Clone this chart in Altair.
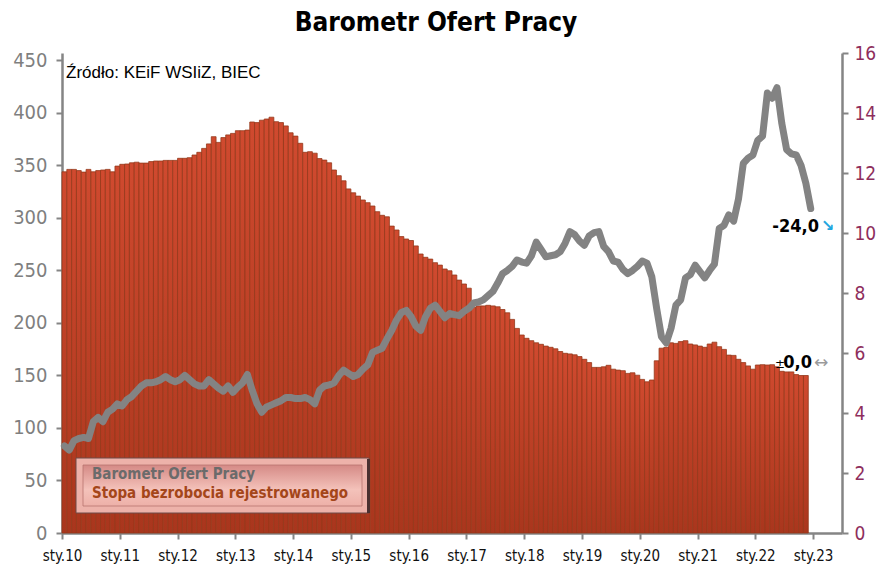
import altair as alt
import pandas as pd

# ---------------- data ----------------
year_labels = ["sty.10", "sty.11", "sty.12", "sty.13", "sty.14", "sty.15", "sty.16",
               "sty.17", "sty.18", "sty.19", "sty.20", "sty.21", "sty.22", "sty.23"]

# Stopa bezrobocia rejestrowanego (%), monthly from Jan 2010 to Nov 2022 (right axis)
unemployment = [
    12.04, 12.12, 12.12, 12.08, 12.03, 12.12, 12.04, 12.08, 12.10, 12.12, 12.04, 12.23,
    12.29, 12.30, 12.34, 12.36, 12.33, 12.33, 12.38, 12.40, 12.40, 12.42, 12.42, 12.42,
    12.49, 12.49, 12.51, 12.60, 12.69, 12.82, 12.97, 13.21, 13.02, 13.18, 13.27, 13.32,
    13.41, 13.41, 13.43, 13.70, 13.68, 13.76, 13.80, 13.86, 13.71, 13.68, 13.57, 13.34,
    13.23, 12.99, 12.69, 12.71, 12.66, 12.48, 12.43, 12.34, 12.10, 11.91, 11.74, 11.47,
    11.34, 11.23, 11.10, 11.01, 10.90, 10.71, 10.59, 10.54, 10.23, 10.10, 9.88, 9.80,
    9.75, 9.57, 9.30, 9.19, 9.13, 9.01, 8.93, 8.80, 8.74, 8.60, 8.43, 8.30,
    8.16, 7.52, 7.57, 7.57, 7.59, 7.57, 7.54, 7.45, 7.34, 7.12, 6.82, 6.60,
    6.49, 6.41, 6.34, 6.29, 6.23, 6.19, 6.14, 6.05, 5.99, 5.97, 5.94, 5.88,
    5.79, 5.68, 5.52, 5.52, 5.54, 5.59, 5.46, 5.43, 5.41, 5.32, 5.34, 5.26,
    5.12, 5.04, 5.10, 5.74, 6.16, 6.19, 6.34, 6.32, 6.38, 6.41, 6.30, 6.27,
    6.23, 6.19, 6.30, 6.36, 6.21, 6.12, 5.93, 5.92, 5.79, 5.68, 5.57, 5.46,
    5.60, 5.61, 5.60, 5.61, 5.54, 5.39, 5.37, 5.37, 5.28, 5.25, 5.25,
]

# Barometr Ofert Pracy, monthly from Jan 2010 to Dec 2022 (left axis)
barometr = [
    83, 79, 88, 90, 91, 90, 106, 110, 106, 115, 118, 123,
    121, 127, 130, 135, 140, 143, 143, 144, 146, 149, 146, 144,
    146, 150, 146, 142, 140, 140, 146, 142, 138, 135, 140, 134,
    139, 143, 151, 136, 123, 115, 120, 122, 124, 126, 129, 129,
    128, 128, 129, 127, 123, 136, 140, 141, 143, 150, 155, 152,
    149, 151, 156, 160, 172, 174, 176, 185, 193, 203, 210, 212,
    206, 197, 193, 206, 214, 217, 211, 205, 209, 208, 207, 211,
    214, 219, 220, 222, 226, 230, 238, 247, 250, 254, 260, 258,
    257, 264, 277, 270, 263, 264, 265, 268, 276, 287, 284, 278,
    274, 283, 286, 287, 273, 268, 259, 258, 251, 247, 250, 254,
    259, 257, 244, 214, 187, 181, 195, 217, 222, 243, 246, 255,
    249, 243, 250, 256, 290, 293, 303, 297, 318, 352, 357, 360,
    374, 378, 419, 414, 424, 390, 365, 361, 360, 350, 333, 309,
]

title_text = "Barometr Ofert Pracy"
source_text = "Źródło: KEiF WSIiZ, BIEC"
legend_texts = ["Barometr Ofert Pracy", "Stopa bezrobocia rejestrowanego"]
line_change = "-24,0"
bar_change_sign = "±"
bar_change = "0,0"

# ---------------- styling ----------------
NARROW = "DejaVu Sans Condensed, DejaVu Sans, sans-serif"
GRAY = "#858585"

bars_df = pd.DataFrame({
    "m": list(range(len(unemployment))),
    "m2": [i + 1 for i in range(len(unemployment))],
    "rate": unemployment,
})
line_df = pd.DataFrame({
    "m": [i + 0.5 for i in range(len(barometr))],
    "value": barometr,
})

label_array = "[" + ",".join("'%s'" % s for s in year_labels) + "]"
x_scale = alt.Scale(domain=[0, 162], nice=False, zero=False)
x_axis = alt.Axis(
    values=[12 * k for k in range(len(year_labels))],
    labelExpr=label_array + "[round(datum.value/12)]",
    title=None, grid=False, labelOverlap=False, labelFlush=False,
    domainColor=GRAY, domainWidth=2.5,
    tickColor=GRAY, tickWidth=2, tickSize=6,
    labelFont=NARROW, labelFontSize=15, labelColor="#111111", labelPadding=9,
)

bar_fill = alt.Gradient(
    gradient="linear",
    stops=[alt.GradientStop(color="#D04A2F", offset=0),
           alt.GradientStop(color="#A9361D", offset=1)],
    x1=0, x2=0, y1=0, y2=1,
)

bars = alt.Chart(bars_df).mark_bar(
    fill=bar_fill, stroke="#94391A", strokeWidth=0.8
).encode(
    x=alt.X("m:Q", scale=x_scale, axis=x_axis),
    x2="m2:Q",
    y=alt.Y("rate:Q",
            scale=alt.Scale(domain=[0, 16], nice=False),
            axis=alt.Axis(orient="right", values=list(range(0, 17, 2)), title=None,
                          grid=False, domainColor=GRAY, domainWidth=2.5,
                          tickColor=GRAY, tickWidth=2, tickSize=6,
                          labelFont=NARROW, labelFontSize=19, labelColor="#8E2E5C",
                          labelPadding=6)),
    y2=alt.datum(0),
)

line = alt.Chart(line_df).mark_line(
    color="#838383", strokeWidth=7, strokeCap="round", strokeJoin="round"
).encode(
    x=alt.X("m:Q", scale=x_scale),
    y=alt.Y("value:Q",
            scale=alt.Scale(domain=[0, 457.1], nice=False),
            axis=alt.Axis(orient="left", values=list(range(0, 451, 50)), title=None,
                          grid=False, domainColor=GRAY, domainWidth=2.5,
                          tickColor=GRAY, tickWidth=2, tickSize=6,
                          labelFont=NARROW, labelFontSize=20, labelColor="#7F7F7F",
                          labelPadding=9)),
)

source = alt.Chart(pd.DataFrame({"t": [source_text]})).mark_text(
    font="Liberation Sans, Arial, sans-serif", fontSize=17, color="#000000",
    align="left", baseline="alphabetic"
).encode(x=alt.value(4), y=alt.value(25), text="t:N")

# legend box (decoration)
legend_outer = alt.Chart(pd.DataFrame({"a": [0]})).mark_rect(
    fill="#EDB2AA", stroke="#6E4A48", strokeWidth=1
).encode(x=alt.value(14), x2=alt.value(307), y=alt.value(405), y2=alt.value(460))

legend_inner = alt.Chart(pd.DataFrame({"a": [0]})).mark_rect(
    fill=alt.Gradient(gradient="linear",
                      stops=[alt.GradientStop(color="#D58A86", offset=0),
                             alt.GradientStop(color="#F4C2BA", offset=0.6),
                             alt.GradientStop(color="#EDB0A8", offset=1)],
                      x1=0, x2=0, y1=0, y2=1),
    stroke="#B87470", strokeWidth=0.8
).encode(x=alt.value(21), x2=alt.value(300), y=alt.value(412), y2=alt.value(453))

legend_shadow = alt.Chart(pd.DataFrame({"a": [0]})).mark_rect(
    fill="#4A3030"
).encode(x=alt.value(305), x2=alt.value(308), y=alt.value(406), y2=alt.value(460))

legend_df = pd.DataFrame({"t": legend_texts, "c": ["#6B6B6B", "#A4461A"],
                          "yy": [426, 445]})
legend_text = alt.Chart(legend_df).mark_text(
    font=NARROW, fontSize=15, fontWeight="bold", align="left", baseline="alphabetic"
).encode(x=alt.value(30), y=alt.Y("yy:Q", scale=None), text="t:N",
         color=alt.Color("c:N", scale=None))

# change annotations
ann_line = alt.Chart(pd.DataFrame({"t": [line_change]})).mark_text(
    font=NARROW, fontSize=18, fontWeight="bold", color="#000000",
    align="right", baseline="alphabetic"
).encode(x=alt.value(757), y=alt.value(179), text="t:N")

ann_line_arrow = alt.Chart(pd.DataFrame({"t": ["↘"]})).mark_text(
    font="DejaVu Sans", fontSize=16, fontWeight="bold", color="#1FA7E0",
    align="left", baseline="alphabetic"
).encode(x=alt.value(759), y=alt.value(178), text="t:N")

ann_bar_sign = alt.Chart(pd.DataFrame({"t": [bar_change_sign]})).mark_text(
    font="DejaVu Sans", fontSize=12, color="#000000",
    align="right", baseline="alphabetic"
).encode(x=alt.value(723), y=alt.value(315), text="t:N")

ann_bar = alt.Chart(pd.DataFrame({"t": [bar_change]})).mark_text(
    font=NARROW, fontSize=18, fontWeight="bold", color="#000000",
    align="right", baseline="alphabetic"
).encode(x=alt.value(750), y=alt.value(315), text="t:N")

ann_bar_arrow = alt.Chart(pd.DataFrame({"t": ["↔"]})).mark_text(
    font="DejaVu Sans", fontSize=17, color="#9A9A9A",
    align="left", baseline="middle"
).encode(x=alt.value(752), y=alt.value(310), text="t:N")

chart = alt.layer(
    bars, line, source, legend_outer, legend_inner, legend_shadow, legend_text,
    ann_line, ann_line_arrow, ann_bar_sign, ann_bar, ann_bar_arrow
).resolve_scale(
    y="independent"
).properties(
    width=780, height=480,
    title=alt.TitleParams(text=title_text, font=NARROW, fontSize=26, fontWeight="bold",
                          color="#000000", anchor="middle", dx=-16, offset=8),
    padding={"left": 62, "top": 53, "right": 41, "bottom": 41},
    autosize=alt.AutoSizeParams(type="none"),
).configure_view(stroke=None)

chart.save("out.html", embed_options={"renderer": "svg", "actions": False})
